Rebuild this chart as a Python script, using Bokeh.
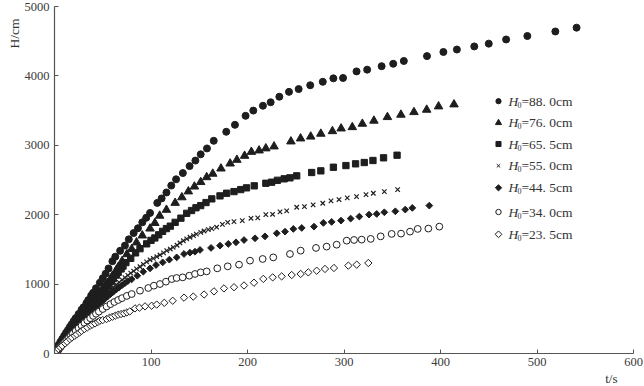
import math
from bokeh.plotting import figure
from bokeh.models import Range1d, FixedTicker, Label, Title
from bokeh.embed import file_html
from bokeh.resources import INLINE

# ---------------- data (t in s, H in cm) ----------------
series_names = ["88. 0cm", "76. 0cm", "65. 5cm", "55. 0cm", "44. 5cm", "34. 0cm", "23. 5cm"]

t_880 = [0.5, 2, 4, 6, 8, 10, 12, 14, 16, 18, 20, 22, 25, 28, 30, 33, 35, 38, 40, 43,
         47, 50, 53, 56, 60, 63, 68, 73, 77, 82, 86.5, 91, 95, 99, 106.5, 111, 116, 121, 126, 133,
         140, 146, 151.5, 158, 165, 178, 187, 198, 206, 216, 224, 233, 243, 253, 265, 278, 289, 299, 313, 324,
         339, 351, 362, 386, 403, 417, 435, 450, 468, 490, 519, 541]
H_880 = [39, 70, 120, 165, 210, 255, 300, 340, 385, 425, 470, 510, 570, 630, 665, 725, 770, 835, 875, 940,
         1020, 1085, 1150, 1225, 1330, 1395, 1480, 1555, 1645, 1735, 1805, 1890, 1955, 2025, 2170, 2235, 2320, 2420, 2510, 2600,
         2700, 2780, 2870, 2955, 3065, 3195, 3295, 3425, 3500, 3570, 3620, 3700, 3770, 3810, 3865, 3915, 3965, 3970, 4065, 4090,
         4140, 4175, 4215, 4285, 4345, 4380, 4425, 4465, 4525, 4575, 4640, 4695]

t_760 = [1, 3, 5, 7, 9, 11, 13, 15, 17, 19, 22, 25, 28, 31, 34, 37, 40, 43, 46, 49,
         52, 55, 58, 60, 64, 66, 70, 75, 80, 85, 91, 99, 104, 109, 116, 125, 132, 138.7, 145, 151.5,
         157.7, 164, 172.5, 182, 189, 197, 204, 212, 219, 227.5, 245, 255, 265.5, 276, 288, 297, 308.6, 319, 331, 345,
         359, 372.5, 385.7, 398, 414]
H_760 = [20, 58, 97, 136, 174, 212, 250, 288, 326, 364, 420, 476, 532, 588, 643, 698, 752, 806, 860, 912,
         965, 1018, 1070, 1120, 1200, 1245, 1330, 1430, 1505, 1600, 1700, 1800, 1880, 1985, 2070, 2170, 2250, 2335, 2405, 2470,
         2540, 2590, 2665, 2737, 2790, 2848, 2905, 2925, 2955, 2983, 3055, 3098, 3125, 3166, 3203, 3242, 3261, 3310, 3354, 3406,
         3440, 3478, 3512, 3560, 3589]

t_655 = [1, 3, 5, 7, 9, 11, 13, 15, 17, 20, 23, 26, 29, 32, 35, 38, 41, 44, 47, 50,
         53, 56, 59, 61, 64, 66, 69, 71, 74, 79, 84, 88.6, 95.5, 100, 104, 108, 112, 116, 120, 125,
         131, 137, 142, 146.6, 151.5, 157, 163, 171.5, 178.4, 186, 193, 199, 207, 219, 225, 231, 238, 244, 251, 266.5,
         276, 289, 302, 312, 321, 330, 341, 355]
H_655 = [19, 57, 94, 131, 168, 204, 240, 276, 312, 365, 418, 470, 521, 572, 622, 671, 720, 768, 815, 870,
         920, 975, 1035, 1080, 1130, 1170, 1218, 1260, 1310, 1371, 1450, 1510, 1580, 1630, 1665, 1710, 1760, 1800, 1835, 1890,
         1950, 2020, 2060, 2100, 2131, 2175, 2228, 2271, 2309, 2333, 2362, 2387, 2416, 2453, 2468, 2496, 2517, 2531, 2560, 2608,
         2632, 2684, 2708, 2733, 2752, 2781, 2820, 2857]

t_550 = [1, 3, 5, 7, 9, 11, 13, 15, 17, 19, 22, 25, 28, 31, 34, 37, 40, 43, 46, 49,
         52, 55, 58, 61, 64, 67, 70, 73, 76, 79, 82, 85, 88.6, 92, 95.5, 99, 102.4, 106, 109.3, 113,
         116.3, 120, 123, 127, 130, 133.5, 137, 140.4, 144, 147, 151.5, 155, 159.4, 163, 168, 174, 179.5, 186, 194.6, 203.6,
         210.6, 219, 226, 233.7, 240.6, 251, 259, 268, 278, 286.5, 294.8, 303.4, 313, 322.8, 330.4, 341.8, 355.6]
H_550 = [19, 56, 94, 130, 167, 202, 238, 273, 307, 341, 391, 441, 489, 536, 582, 628, 672, 715, 758, 799,
         839, 879, 917, 954, 991, 1026, 1061, 1094, 1126, 1158, 1188, 1220, 1250, 1285, 1320, 1350, 1371, 1395, 1420, 1450,
         1482, 1505, 1530, 1560, 1593, 1625, 1651, 1675, 1698, 1720, 1746, 1765, 1785, 1800, 1820, 1860, 1890, 1900, 1915, 1948,
         1954, 2001, 2006, 2040, 2055, 2107, 2117, 2141, 2165, 2199, 2218, 2242, 2261, 2290, 2309, 2333, 2362]

t_445 = [1, 3, 5, 7, 9, 11, 13, 15, 17, 19, 22, 25, 28, 31, 34, 37, 40, 43, 46, 49,
         52, 55, 58, 61, 64, 67, 70, 73, 76, 80, 85.8, 92, 99, 105.2, 112.1, 119, 126.6, 134.2, 140.4, 145.6,
         150.8, 162.2, 171.5, 180.1, 188.1, 196.4, 207.8, 218.1, 230.3, 238.9, 247.5, 256.2, 268.9, 278.6, 287.2, 296.9, 306.9, 315.9, 325.9, 333.9,
         341.8, 353.2, 363.5, 370.8, 388.4]
H_445 = [18, 53, 89, 123, 157, 191, 224, 257, 290, 322, 369, 415, 460, 504, 547, 589, 630, 670, 709, 747,
         784, 820, 855, 889, 922, 953, 984, 1014, 1043, 1070, 1121, 1179, 1227, 1275, 1313, 1352, 1385, 1434, 1453, 1467,
         1492, 1521, 1554, 1579, 1602, 1635, 1660, 1688, 1732, 1756, 1795, 1809, 1828, 1882, 1896, 1915, 1944, 1973, 2001, 2011,
         2035, 2049, 2074, 2098, 2131]

t_340 = [1, 3, 5, 7, 9, 11, 13, 15, 17, 19, 22, 25, 28, 31, 34, 37, 40, 43, 46, 50,
         54, 58, 62, 66, 70, 75, 80, 88.6, 97.2, 103, 109.3, 115.5, 121.5, 126.6, 132.8, 139.7, 145.6, 151.5, 157.7, 168.7,
         179.5, 191.2, 202.6, 215.7, 226.7, 244, 255.1, 271, 282, 292.4, 302.8, 310.4, 318.3, 327.7, 338, 349.4, 359.1, 368.4, 376.4, 387.4,
         398.8]
H_340 = [16, 49, 80, 111, 142, 172, 201, 230, 258, 286, 326, 365, 403, 440, 475, 509, 542, 573, 603, 641,
         677, 711, 742, 771, 798, 830, 857, 905, 944, 977, 1001, 1035, 1073, 1088, 1097, 1121, 1146, 1169, 1183, 1227,
         1256, 1280, 1338, 1362, 1385, 1434, 1482, 1521, 1540, 1568, 1626, 1636, 1641, 1651, 1688, 1723, 1727, 1756, 1795, 1800,
         1828]

t_235 = [2, 4, 6, 8, 11, 13, 16, 18, 21, 23, 26, 28, 31, 34, 37, 39, 42, 45, 47, 50,
         54, 57, 60, 63, 66, 69, 72, 75, 78, 83.4, 88, 93.8, 100.7, 105.9, 113.8, 122.5, 134.2, 143.8, 155, 165.3,
         175.6, 186, 196.4, 206.7, 216.4, 226.1, 235.4, 245.8, 255.1, 263, 271.7, 280.3, 289.6, 304.5, 313.2, 325.2]
H_235 = [40, 65, 90, 112, 145, 170, 208, 230, 255, 275, 303, 325, 352, 375, 400, 415, 433, 455, 472, 482,
         496, 515, 530, 545, 558, 568, 577, 592, 606, 650, 660, 679, 688, 705, 730, 760, 805, 820, 850, 895,
         938, 955, 980, 1020, 1075, 1097, 1111, 1131, 1146, 1169, 1193, 1218, 1232, 1266, 1280, 1304]

x_ticks = [100, 200, 300, 400, 500, 600]
y_ticks = [0, 1000, 2000, 3000, 4000, 5000]
x_title = "t/s"
y_title = "H/cm"

all_t = [t_880, t_760, t_655, t_550, t_445, t_340, t_235]
all_H = [H_880, H_760, H_655, H_550, H_445, H_340, H_235]

# ---------------- styles / layout ----------------
INK = "#1e1e1e"
TXT = "#333333"
SERIF = "Liberation Serif"
styles = [
    dict(marker="circle", size=7, fill_color=INK, line_color=INK, angle=0.0, lw=1),
    dict(marker="triangle", size=8.5, fill_color=INK, line_color=INK, angle=0.0, lw=1),
    dict(marker="square", size=6.3, fill_color=INK, line_color=INK, angle=0.0, lw=1),
    dict(marker="x", size=6.3, fill_color=None, line_color=INK, angle=0.0, lw=1.2),
    dict(marker="square", size=4.8, fill_color=INK, line_color=INK, angle=math.pi / 4, lw=1),
    dict(marker="circle", size=6.8, fill_color="white", line_color=INK, angle=0.0, lw=1),
    dict(marker="square", size=5.2, fill_color="white", line_color=INK, angle=math.pi / 4, lw=1),
]
legend_scale = [0.68, 0.66, 0.72, 0.7, 0.82, 0.72, 0.82]

W, Hh = 644, 386
BL, BR, BT, BB = 54, 11, 6, 33
FW, FH = W - BL - BR, Hh - BT - BB
X0, X1, Y0, Y1 = 0, 600, 0, 5000


def px2x(px):
    return X0 + (px - BL) / FW * (X1 - X0)


def px2y(py):
    return Y0 + (Hh - BB - py) / FH * (Y1 - Y0)


p = figure(width=W, height=Hh, x_range=Range1d(X0, X1), y_range=Range1d(Y0, Y1),
           output_backend="svg", toolbar_location=None,
           min_border_left=BL, min_border_right=BR, min_border_top=BT, min_border_bottom=BB)
p.outline_line_color = None
p.xgrid.visible = False
p.ygrid.visible = False
p.background_fill_color = "white"
p.border_fill_color = "white"

p.xaxis.ticker = FixedTicker(ticks=x_ticks)
p.yaxis.ticker = FixedTicker(ticks=y_ticks)
for ax in (p.xaxis[0], p.yaxis[0]):
    ax.axis_line_color = "#555555"
    ax.axis_line_width = 1.2
    ax.major_tick_line_color = "#555555"
    ax.major_tick_in = 4
    ax.major_tick_out = 0
    ax.minor_tick_in = 0
    ax.minor_tick_out = 0
    ax.major_label_text_font = SERIF
    ax.major_label_text_font_size = "12.5px"
    ax.major_label_text_color = "#3a3a3a"
    ax.major_label_standoff = 5
p.xaxis[0].major_label_standoff = 4

# axis titles as side-panel titles (not clipped by the frame)
p.add_layout(Title(text=y_title, align="right", offset=12, standoff=0, text_font=SERIF,
                   text_font_style="normal", text_font_size="13.5px", text_color=TXT), "left")
p.add_layout(Title(text=x_title, align="right", offset=16, standoff=0, text_font=SERIF,
                   text_font_style="normal", text_font_size="13px", text_color=TXT), "below")

for i, (ts, hs) in enumerate(zip(all_t, all_H)):
    st = styles[i]
    p.scatter(x=ts, y=hs, marker=st["marker"], size=st["size"], angle=st["angle"],
              fill_color=st["fill_color"], line_color=st["line_color"], line_width=st["lw"])

# legend (manual, to allow italic H with subscript)
leg_y_px = [100.7, 122.3, 143.5, 165.3, 187.3, 211.5, 233.8]
leg_mx_px = 498
for i, name in enumerate(series_names):
    st = styles[i]
    yy = px2y(leg_y_px[i])
    p.scatter(x=[px2x(leg_mx_px)], y=[yy], marker=st["marker"], size=st["size"] * legend_scale[i] + 0.5,
              angle=st["angle"], fill_color=st["fill_color"], line_color=st["line_color"], line_width=1)
    p.add_layout(Label(x=px2x(508), y=yy, text="H", text_font=SERIF, text_font_style="italic",
                       text_font_size="13.5px", text_color=TXT, text_baseline="middle", text_align="left"))
    p.add_layout(Label(x=px2x(517), y=px2y(leg_y_px[i] + 3.5), text="0", text_font=SERIF,
                       text_font_size="8px", text_color=TXT, text_baseline="middle", text_align="left"))
    p.add_layout(Label(x=px2x(521), y=yy, text="=" + name, text_font=SERIF,
                       text_font_size="13.5px", text_color=TXT, text_baseline="middle", text_align="left"))

open("out.html", "w").write(file_html(p, INLINE))
